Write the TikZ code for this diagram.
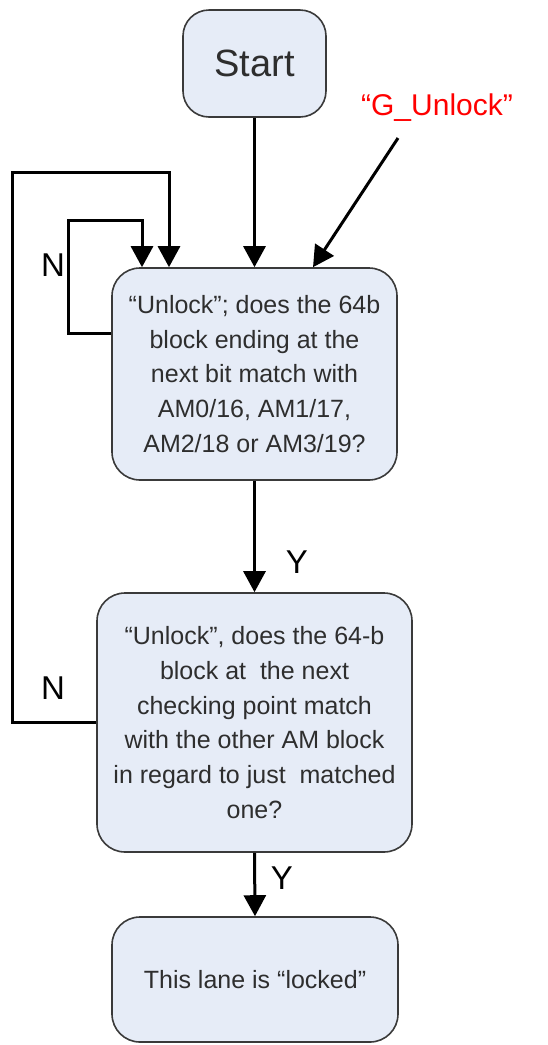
\documentclass[tikz,border=0pt]{standalone}
\usepackage{fontspec}
\setmainfont{Liberation Sans}
\usetikzlibrary{arrows.meta}
\definecolor{boxfill}{HTML}{E6ECF7}
\definecolor{boxline}{HTML}{3A3A3A}
\definecolor{boxtext}{HTML}{2E2E2E}
\begin{document}
\begin{tikzpicture}[x=1pt,y=-1pt,
  stepbox/.style={draw=boxline, line width=1.6pt, fill=boxfill, rounded corners=28pt,
    align=center, text=boxtext, inner sep=0pt,
    font=\fontsize{25}{34.8}\selectfont},
  arr/.style={line width=3pt, -{Triangle[width=22pt,length=21pt]}},
  lbl/.style={font=\fontsize{33}{33}\selectfont, inner sep=0pt}]
\useasboundingbox (0,0) rectangle (548,1045);

% process boxes
\node[stepbox, minimum width=143pt, minimum height=107pt, rounded corners=26pt,
  font=\fontsize{38}{38}\selectfont] (start) at (254.5,63.5) {Start};
\node[stepbox, minimum width=285pt, minimum height=212pt] (check1) at (254.5,374)
  {“Unlock”; does the 64b\\block ending at the\\next bit match with\\AM0/16, AM1/17,\\AM2/18 or AM3/19?};
\node[stepbox, minimum width=315pt, minimum height=259pt] (check2) at (254.5,722.5)
  {“Unlock”, does the 64-b\\block at\ \ the next\\checking point match\\with the other AM block\\in regard to just\ \ matched\\one?};
\node[stepbox, minimum width=286pt, minimum height=125pt] (locked) at (255,979.5)
  {This lane is “locked”};

% external input
\node[text=red, font=\fontsize{30}{30}\selectfont, inner sep=0pt] (gunlock) at (437,108) {“G\_Unlock”};

% connectors
\draw[arr] (start.south) -- (check1.north);
\draw[arr] ([shift={(-39pt,-16pt)}]gunlock.south) -- ([xshift=58.5pt]check1.north);
\draw[arr] ([yshift=41pt]check1.west) -| (68,220) -| ([xshift=-112.5pt]check1.north);
\draw[arr] (check2.west) -| (12,172) -| ([xshift=-85.5pt]check1.north);
\draw[arr] (check1.south) -- (check2.north);
\draw[arr] (check2.south) -- (locked.north);

% branch labels
\node[lbl] (n1) at (53,265) {N};
\node[lbl] (n2) at (53,688) {N};
\node[lbl] (y1) at (297,562) {Y};
\node[lbl] (y2) at (282,878) {Y};
\end{tikzpicture}
\end{document}
